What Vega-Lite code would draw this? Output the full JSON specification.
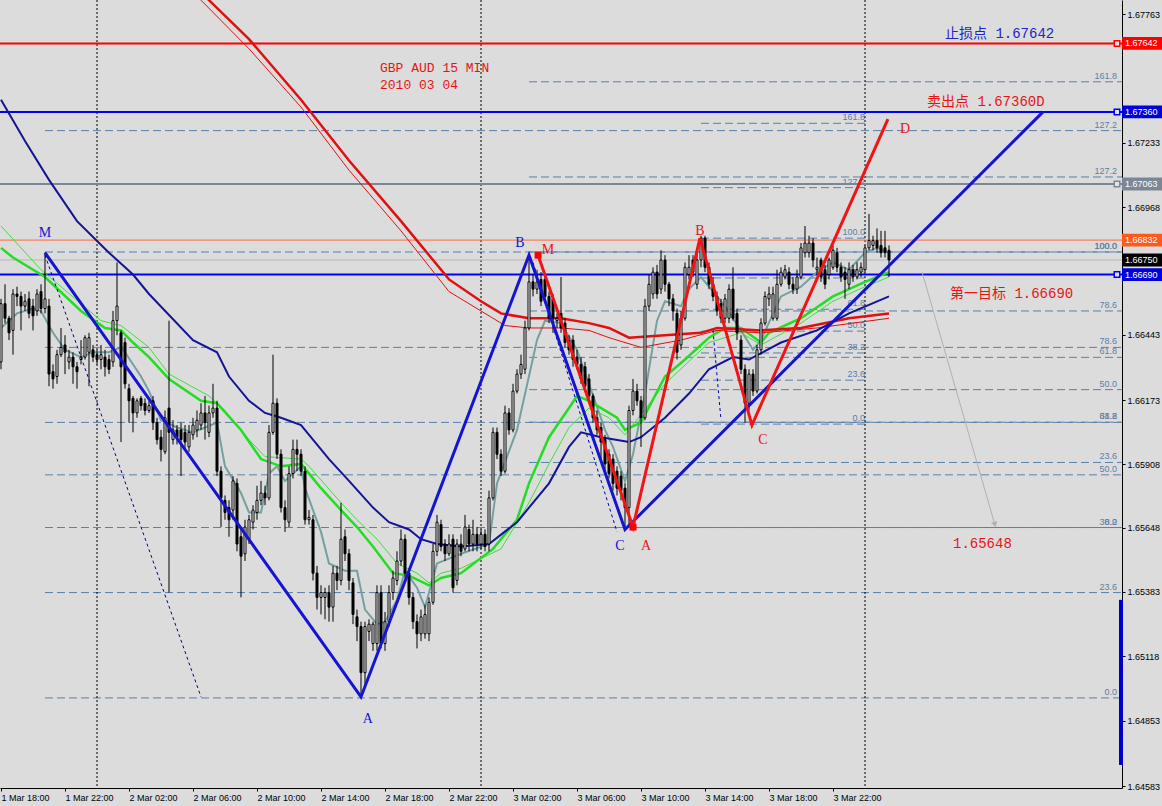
{
"$schema":"https://vega.github.io/schema/vega-lite/v6.json",
"width":1122,"height":788,
"autosize":{"type":"none"},
"padding":{"left":0,"top":0,"right":40,"bottom":18},
"background":"#dcdcdc",
"config":{"view":{"stroke":null},"axis":{"grid":false},"scale":{"continuousPadding":0}},
"datasets":{
"fib":[
{"lv":"0.0","p":1.64946,"t1":"2010-03-01T20:45","t2":"2010-03-04T16:03:45","tl":"2010-03-04T15:45"},
{"lv":"23.6","p":1.65380,"t1":"2010-03-01T20:45","t2":"2010-03-04T16:03:45","tl":"2010-03-04T15:45"},
{"lv":"38.2","p":1.65648,"t1":"2010-03-01T20:45","t2":"2010-03-04T16:03:45","tl":"2010-03-04T15:45"},
{"lv":"50.0","p":1.65865,"t1":"2010-03-01T20:45","t2":"2010-03-04T16:03:45","tl":"2010-03-04T15:45"},
{"lv":"61.8","p":1.66081,"t1":"2010-03-01T20:45","t2":"2010-03-04T16:03:45","tl":"2010-03-04T15:45"},
{"lv":"78.6","p":1.66390,"t1":"2010-03-01T20:45","t2":"2010-03-04T16:03:45","tl":"2010-03-04T15:45"},
{"lv":"100.0","p":1.66783,"t1":"2010-03-01T20:45","t2":"2010-03-04T16:03:45","tl":"2010-03-04T15:45"},
{"lv":"127.2","p":1.67283,"t1":"2010-03-01T20:45","t2":"2010-03-04T16:03:45","tl":"2010-03-04T15:45"},
{"lv":"0.0","p":1.65648,"t1":"2010-03-03T03:00","t2":"2010-03-04T16:03:45","tl":"2010-03-04T15:45"},
{"lv":"23.6","p":1.65916,"t1":"2010-03-03T03:00","t2":"2010-03-04T16:03:45","tl":"2010-03-04T15:45"},
{"lv":"38.2","p":1.66082,"t1":"2010-03-03T03:00","t2":"2010-03-04T16:03:45","tl":"2010-03-04T15:45"},
{"lv":"50.0","p":1.66216,"t1":"2010-03-03T03:00","t2":"2010-03-04T16:03:45","tl":"2010-03-04T15:45"},
{"lv":"61.8","p":1.66349,"t1":"2010-03-03T03:00","t2":"2010-03-04T16:03:45","tl":"2010-03-04T15:45"},
{"lv":"78.6","p":1.66540,"t1":"2010-03-03T03:00","t2":"2010-03-04T16:03:45","tl":"2010-03-04T15:45"},
{"lv":"100.0","p":1.66783,"t1":"2010-03-03T03:00","t2":"2010-03-04T16:03:45","tl":"2010-03-04T15:45"},
{"lv":"127.2","p":1.67092,"t1":"2010-03-03T03:00","t2":"2010-03-04T16:03:45","tl":"2010-03-04T15:45"},
{"lv":"161.8","p":1.67484,"t1":"2010-03-03T03:00","t2":"2010-03-04T16:03:45","tl":"2010-03-04T15:45"},
{"lv":"0.0","p":1.66074,"t1":"2010-03-03T13:45","t2":"2010-03-04T00:00","tl":"2010-03-04T00:00"},
{"lv":"23.6","p":1.66255,"t1":"2010-03-03T13:45","t2":"2010-03-04T00:00","tl":"2010-03-04T00:00"},
{"lv":"38.2","p":1.66367,"t1":"2010-03-03T13:45","t2":"2010-03-04T00:00","tl":"2010-03-04T00:00"},
{"lv":"50.0","p":1.66457,"t1":"2010-03-03T13:45","t2":"2010-03-04T00:00","tl":"2010-03-04T00:00"},
{"lv":"61.8","p":1.66547,"t1":"2010-03-03T13:45","t2":"2010-03-04T00:00","tl":"2010-03-04T00:00"},
{"lv":"78.6","p":1.66676,"t1":"2010-03-03T13:45","t2":"2010-03-04T00:00","tl":"2010-03-04T00:00"},
{"lv":"100.0","p":1.66840,"t1":"2010-03-03T13:45","t2":"2010-03-04T00:00","tl":"2010-03-04T00:00"},
{"lv":"127.2","p":1.67048,"t1":"2010-03-03T13:45","t2":"2010-03-04T00:00","tl":"2010-03-04T00:00"},
{"lv":"161.8","p":1.67313,"t1":"2010-03-03T13:45","t2":"2010-03-04T00:00","tl":"2010-03-04T00:00"}
],
"days":[{"t":"2010-03-02T00:00"},{"t":"2010-03-03T00:00"},{"t":"2010-03-04T00:00"}],
"hl":[{"n":"stop","p":1.67642},{"n":"sell","p":1.67360},{"n":"gray","p":1.67063},{"n":"or","p":1.66832},{"n":"bid","p":1.66750},{"n":"t1","p":1.66690}],
"ma":[
{"s":"nv","t":"2010-03-01T18:00","p":1.6741},{"s":"nv","t":"2010-03-01T19:30","p":1.6724},{"s":"nv","t":"2010-03-01T21:00","p":1.6708},{"s":"nv","t":"2010-03-01T22:45","p":1.6691},{"s":"nv","t":"2010-03-02T00:45","p":1.6678},{"s":"nv","t":"2010-03-02T02:15","p":1.6669},{"s":"nv","t":"2010-03-02T03:15","p":1.6661},{"s":"nv","t":"2010-03-02T06:00","p":1.6642},{"s":"nv","t":"2010-03-02T07:30","p":1.6637},{"s":"nv","t":"2010-03-02T08:15","p":1.6627},{"s":"nv","t":"2010-03-02T09:30","p":1.6617},{"s":"nv","t":"2010-03-02T10:30","p":1.6612},{"s":"nv","t":"2010-03-02T11:30","p":1.6610},{"s":"nv","t":"2010-03-02T12:45","p":1.6607},{"s":"nv","t":"2010-03-02T14:30","p":1.6593},{"s":"nv","t":"2010-03-02T15:45","p":1.6584},{"s":"nv","t":"2010-03-02T17:15","p":1.6573},{"s":"nv","t":"2010-03-02T18:15","p":1.6567},{"s":"nv","t":"2010-03-02T19:30","p":1.6564},{"s":"nv","t":"2010-03-02T20:15","p":1.6560},{"s":"nv","t":"2010-03-02T21:15","p":1.6558},{"s":"nv","t":"2010-03-02T22:45","p":1.6557},{"s":"nv","t":"2010-03-03T00:30","p":1.6558},{"s":"nv","t":"2010-03-03T02:15","p":1.6567},{"s":"nv","t":"2010-03-03T04:15","p":1.6583},{"s":"nv","t":"2010-03-03T05:30","p":1.6598},{"s":"nv","t":"2010-03-03T06:15","p":1.6604},{"s":"nv","t":"2010-03-03T07:30","p":1.6602},{"s":"nv","t":"2010-03-03T09:15","p":1.6600},{"s":"nv","t":"2010-03-03T10:00","p":1.6602},{"s":"nv","t":"2010-03-03T11:30","p":1.6610},{"s":"nv","t":"2010-03-03T13:00","p":1.6620},{"s":"nv","t":"2010-03-03T14:15","p":1.6630},{"s":"nv","t":"2010-03-03T15:45","p":1.6635},{"s":"nv","t":"2010-03-03T16:45","p":1.6634},{"s":"nv","t":"2010-03-03T18:45","p":1.6641},{"s":"nv","t":"2010-03-03T21:00","p":1.6646},{"s":"nv","t":"2010-03-03T23:00","p":1.6653},{"s":"nv","t":"2010-03-04T01:30","p":1.6660},
{"s":"r1","t":"2010-03-02T05:15","p":1.6795},{"s":"r1","t":"2010-03-02T07:00","p":1.6782},{"s":"r1","t":"2010-03-02T09:30","p":1.6766},{"s":"r1","t":"2010-03-02T12:45","p":1.6741},{"s":"r1","t":"2010-03-02T15:45","p":1.6716},{"s":"r1","t":"2010-03-02T19:00","p":1.6691},{"s":"r1","t":"2010-03-02T22:00","p":1.6667},{"s":"r1","t":"2010-03-03T00:00","p":1.6658},{"s":"r1","t":"2010-03-03T01:15","p":1.6653},{"s":"r1","t":"2010-03-03T03:00","p":1.6651},{"s":"r1","t":"2010-03-03T05:00","p":1.6651},{"s":"r1","t":"2010-03-03T06:45","p":1.6649},{"s":"r1","t":"2010-03-03T08:00","p":1.6647},{"s":"r1","t":"2010-03-03T09:15","p":1.6643},{"s":"r1","t":"2010-03-03T11:30","p":1.6644},{"s":"r1","t":"2010-03-03T13:45","p":1.6645},{"s":"r1","t":"2010-03-03T14:45","p":1.6647},{"s":"r1","t":"2010-03-03T17:30","p":1.6646},{"s":"r1","t":"2010-03-03T20:00","p":1.6647},{"s":"r1","t":"2010-03-03T23:00","p":1.6651},{"s":"r1","t":"2010-03-04T01:30","p":1.6653},
{"s":"r2","t":"2010-03-02T05:00","p":1.6793},{"s":"r2","t":"2010-03-02T06:30","p":1.6782},{"s":"r2","t":"2010-03-02T09:30","p":1.6762},{"s":"r2","t":"2010-03-02T12:45","p":1.6738},{"s":"r2","t":"2010-03-02T15:45","p":1.6712},{"s":"r2","t":"2010-03-02T19:00","p":1.6687},{"s":"r2","t":"2010-03-02T22:00","p":1.6662},{"s":"r2","t":"2010-03-03T00:00","p":1.6654},{"s":"r2","t":"2010-03-03T01:30","p":1.6648},{"s":"r2","t":"2010-03-03T03:00","p":1.6647},{"s":"r2","t":"2010-03-03T05:00","p":1.6647},{"s":"r2","t":"2010-03-03T06:45","p":1.6646},{"s":"r2","t":"2010-03-03T08:00","p":1.6643},{"s":"r2","t":"2010-03-03T10:00","p":1.6639},{"s":"r2","t":"2010-03-03T12:30","p":1.6642},{"s":"r2","t":"2010-03-03T14:45","p":1.6646},{"s":"r2","t":"2010-03-03T17:30","p":1.6645},{"s":"r2","t":"2010-03-03T21:00","p":1.6647},{"s":"r2","t":"2010-03-04T01:30","p":1.6651},
{"s":"g1","t":"2010-03-01T18:00","p":1.6680},{"s":"g1","t":"2010-03-01T18:45","p":1.6676},{"s":"g1","t":"2010-03-01T20:45","p":1.6668},{"s":"g1","t":"2010-03-01T23:00","p":1.6654},{"s":"g1","t":"2010-03-02T00:30","p":1.6647},{"s":"g1","t":"2010-03-02T01:30","p":1.6646},{"s":"g1","t":"2010-03-02T02:15","p":1.6641},{"s":"g1","t":"2010-03-02T03:15","p":1.6635},{"s":"g1","t":"2010-03-02T04:30","p":1.6626},{"s":"g1","t":"2010-03-02T06:30","p":1.6617},{"s":"g1","t":"2010-03-02T07:30","p":1.6616},{"s":"g1","t":"2010-03-02T09:00","p":1.6605},{"s":"g1","t":"2010-03-02T10:15","p":1.6593},{"s":"g1","t":"2010-03-02T11:30","p":1.6590},{"s":"g1","t":"2010-03-02T12:45","p":1.6591},{"s":"g1","t":"2010-03-02T13:15","p":1.6587},{"s":"g1","t":"2010-03-02T14:00","p":1.6581},{"s":"g1","t":"2010-03-02T15:15","p":1.6572},{"s":"g1","t":"2010-03-02T16:15","p":1.6565},{"s":"g1","t":"2010-03-02T17:15","p":1.6557},{"s":"g1","t":"2010-03-02T18:30","p":1.6546},{"s":"g1","t":"2010-03-02T19:30","p":1.6545},{"s":"g1","t":"2010-03-02T20:45","p":1.6541},{"s":"g1","t":"2010-03-02T21:30","p":1.6544},{"s":"g1","t":"2010-03-02T22:45","p":1.6546},{"s":"g1","t":"2010-03-03T00:45","p":1.6556},{"s":"g1","t":"2010-03-03T02:15","p":1.6568},{"s":"g1","t":"2010-03-03T03:00","p":1.6583},{"s":"g1","t":"2010-03-03T04:15","p":1.6602},{"s":"g1","t":"2010-03-03T05:30","p":1.6614},{"s":"g1","t":"2010-03-03T06:00","p":1.6619},{"s":"g1","t":"2010-03-03T06:45","p":1.6617},{"s":"g1","t":"2010-03-03T08:00","p":1.6612},{"s":"g1","t":"2010-03-03T08:30","p":1.6610},{"s":"g1","t":"2010-03-03T09:00","p":1.6605},{"s":"g1","t":"2010-03-03T10:00","p":1.6608},{"s":"g1","t":"2010-03-03T11:30","p":1.6627},{"s":"g1","t":"2010-03-03T12:45","p":1.6634},{"s":"g1","t":"2010-03-03T14:15","p":1.6643},{"s":"g1","t":"2010-03-03T15:15","p":1.6647},{"s":"g1","t":"2010-03-03T16:15","p":1.6647},{"s":"g1","t":"2010-03-03T17:30","p":1.6641},{"s":"g1","t":"2010-03-03T18:00","p":1.6645},{"s":"g1","t":"2010-03-03T20:00","p":1.6651},{"s":"g1","t":"2010-03-03T22:00","p":1.6660},{"s":"g1","t":"2010-03-04T00:00","p":1.6666},{"s":"g1","t":"2010-03-04T01:30","p":1.6670},
{"s":"g2","t":"2010-03-01T18:00","p":1.6689},{"s":"g2","t":"2010-03-01T20:30","p":1.6671},{"s":"g2","t":"2010-03-02T00:15","p":1.6650},{"s":"g2","t":"2010-03-02T01:30","p":1.6648},{"s":"g2","t":"2010-03-02T03:15","p":1.6639},{"s":"g2","t":"2010-03-02T04:30","p":1.6628},{"s":"g2","t":"2010-03-02T07:00","p":1.6619},{"s":"g2","t":"2010-03-02T08:00","p":1.6613},{"s":"g2","t":"2010-03-02T09:30","p":1.6601},{"s":"g2","t":"2010-03-02T10:30","p":1.6594},{"s":"g2","t":"2010-03-02T12:45","p":1.6593},{"s":"g2","t":"2010-03-02T13:15","p":1.6590},{"s":"g2","t":"2010-03-02T15:15","p":1.6575},{"s":"g2","t":"2010-03-02T16:15","p":1.6568},{"s":"g2","t":"2010-03-02T17:30","p":1.6560},{"s":"g2","t":"2010-03-02T18:45","p":1.6550},{"s":"g2","t":"2010-03-02T20:00","p":1.6546},{"s":"g2","t":"2010-03-02T20:45","p":1.6542},{"s":"g2","t":"2010-03-02T21:30","p":1.6546},{"s":"g2","t":"2010-03-02T22:45","p":1.6548},{"s":"g2","t":"2010-03-03T01:15","p":1.6556},{"s":"g2","t":"2010-03-03T03:00","p":1.6575},{"s":"g2","t":"2010-03-03T04:15","p":1.6591},{"s":"g2","t":"2010-03-03T05:30","p":1.6606},{"s":"g2","t":"2010-03-03T06:45","p":1.6614},{"s":"g2","t":"2010-03-03T08:00","p":1.6610},{"s":"g2","t":"2010-03-03T09:00","p":1.6603},{"s":"g2","t":"2010-03-03T11:30","p":1.6624},{"s":"g2","t":"2010-03-03T14:15","p":1.6641},{"s":"g2","t":"2010-03-03T16:15","p":1.6645},{"s":"g2","t":"2010-03-03T17:30","p":1.6640},{"s":"g2","t":"2010-03-03T20:00","p":1.6649},{"s":"g2","t":"2010-03-03T22:00","p":1.6658},{"s":"g2","t":"2010-03-04T00:00","p":1.6664},{"s":"g2","t":"2010-03-04T01:30","p":1.6668},
{"s":"tl","t":"2010-03-01T18:00","p":1.6647},{"s":"tl","t":"2010-03-01T19:00","p":1.6653},{"s":"tl","t":"2010-03-01T20:00","p":1.6655},{"s":"tl","t":"2010-03-01T20:30","p":1.6654},{"s":"tl","t":"2010-03-01T21:15","p":1.6645},{"s":"tl","t":"2010-03-01T22:00","p":1.6638},{"s":"tl","t":"2010-03-01T23:00","p":1.6635},{"s":"tl","t":"2010-03-01T23:45","p":1.6637},{"s":"tl","t":"2010-03-02T00:45","p":1.6637},{"s":"tl","t":"2010-03-02T01:30","p":1.6639},{"s":"tl","t":"2010-03-02T01:45","p":1.6637},{"s":"tl","t":"2010-03-02T02:45","p":1.6627},{"s":"tl","t":"2010-03-02T03:15","p":1.6621},{"s":"tl","t":"2010-03-02T04:00","p":1.6609},{"s":"tl","t":"2010-03-02T05:00","p":1.6606},{"s":"tl","t":"2010-03-02T06:00","p":1.6604},{"s":"tl","t":"2010-03-02T06:45","p":1.6606},{"s":"tl","t":"2010-03-02T07:30","p":1.6608},{"s":"tl","t":"2010-03-02T08:00","p":1.6590},{"s":"tl","t":"2010-03-02T09:00","p":1.6579},{"s":"tl","t":"2010-03-02T09:30","p":1.6571},{"s":"tl","t":"2010-03-02T10:15","p":1.6571},{"s":"tl","t":"2010-03-02T10:45","p":1.6587},{"s":"tl","t":"2010-03-02T11:15","p":1.6590},{"s":"tl","t":"2010-03-02T11:45","p":1.6584},{"s":"tl","t":"2010-03-02T12:45","p":1.6590},{"s":"tl","t":"2010-03-02T13:00","p":1.6581},{"s":"tl","t":"2010-03-02T14:00","p":1.6563},{"s":"tl","t":"2010-03-02T14:30","p":1.6550},{"s":"tl","t":"2010-03-02T15:30","p":1.6547},{"s":"tl","t":"2010-03-02T16:15","p":1.6547},{"s":"tl","t":"2010-03-02T16:45","p":1.6531},{"s":"tl","t":"2010-03-02T17:30","p":1.6525},{"s":"tl","t":"2010-03-02T18:00","p":1.6526},{"s":"tl","t":"2010-03-02T18:45","p":1.6535},{"s":"tl","t":"2010-03-02T19:15","p":1.6547},{"s":"tl","t":"2010-03-02T20:00","p":1.6540},{"s":"tl","t":"2010-03-02T20:30","p":1.6532},{"s":"tl","t":"2010-03-02T21:15","p":1.6550},{"s":"tl","t":"2010-03-02T22:45","p":1.6554},{"s":"tl","t":"2010-03-03T00:30","p":1.6558},{"s":"tl","t":"2010-03-03T01:00","p":1.6583},{"s":"tl","t":"2010-03-03T02:15","p":1.6605},{"s":"tl","t":"2010-03-03T03:30","p":1.6642},{"s":"tl","t":"2010-03-03T04:00","p":1.6650},{"s":"tl","t":"2010-03-03T05:00","p":1.6649},{"s":"tl","t":"2010-03-03T06:00","p":1.6638},{"s":"tl","t":"2010-03-03T06:45","p":1.6624},{"s":"tl","t":"2010-03-03T07:45","p":1.6605},{"s":"tl","t":"2010-03-03T08:15","p":1.6598},{"s":"tl","t":"2010-03-03T09:00","p":1.6584},{"s":"tl","t":"2010-03-03T09:30","p":1.6595},{"s":"tl","t":"2010-03-03T10:15","p":1.6620},{"s":"tl","t":"2010-03-03T11:00","p":1.6650},{"s":"tl","t":"2010-03-03T11:30","p":1.6658},{"s":"tl","t":"2010-03-03T12:30","p":1.6656},{"s":"tl","t":"2010-03-03T13:00","p":1.6663},{"s":"tl","t":"2010-03-03T13:45","p":1.6668},{"s":"tl","t":"2010-03-03T14:45","p":1.6660},{"s":"tl","t":"2010-03-03T15:15","p":1.6656},{"s":"tl","t":"2010-03-03T16:15","p":1.6646},{"s":"tl","t":"2010-03-03T17:00","p":1.6638},{"s":"tl","t":"2010-03-03T17:30","p":1.6642},{"s":"tl","t":"2010-03-03T18:45","p":1.6660},{"s":"tl","t":"2010-03-03T20:00","p":1.6664},{"s":"tl","t":"2010-03-03T21:00","p":1.6670},{"s":"tl","t":"2010-03-03T22:00","p":1.6674},{"s":"tl","t":"2010-03-03T23:00","p":1.6671},{"s":"tl","t":"2010-03-04T00:00","p":1.6678},{"s":"tl","t":"2010-03-04T00:45","p":1.6680},{"s":"tl","t":"2010-03-04T01:30","p":1.6678}
],
"c":[
{"t":"2010-03-01T18:00","o":1.6633,"h":1.6659,"l":1.6630,"c":1.6657},
{"t":"2010-03-01T18:15","o":1.6657,"h":1.6665,"l":1.6649,"c":1.6651},
{"t":"2010-03-01T18:30","o":1.6651,"h":1.6652,"l":1.6642,"c":1.6645},
{"t":"2010-03-01T18:45","o":1.6646,"h":1.6663,"l":1.6636,"c":1.6661},
{"t":"2010-03-01T19:00","o":1.6661,"h":1.6664,"l":1.6656,"c":1.6660},
{"t":"2010-03-01T19:15","o":1.6660,"h":1.6662,"l":1.6646,"c":1.6656},
{"t":"2010-03-01T19:30","o":1.6656,"h":1.6661,"l":1.6654,"c":1.6658},
{"t":"2010-03-01T19:45","o":1.6659,"h":1.6662,"l":1.6651,"c":1.6653},
{"t":"2010-03-01T20:00","o":1.6656,"h":1.6659,"l":1.6646,"c":1.6652},
{"t":"2010-03-01T20:15","o":1.6654,"h":1.6663,"l":1.6652,"c":1.6661},
{"t":"2010-03-01T20:30","o":1.6662,"h":1.6665,"l":1.6653,"c":1.6655},
{"t":"2010-03-01T20:45","o":1.6655,"h":1.6678,"l":1.6653,"c":1.6659},
{"t":"2010-03-01T21:00","o":1.6656,"h":1.6659,"l":1.6623,"c":1.6628},
{"t":"2010-03-01T21:15","o":1.6629,"h":1.6632,"l":1.6622,"c":1.6626},
{"t":"2010-03-01T21:30","o":1.6627,"h":1.6638,"l":1.6624,"c":1.6636},
{"t":"2010-03-01T21:45","o":1.6636,"h":1.6647,"l":1.6635,"c":1.6639},
{"t":"2010-03-01T22:00","o":1.6640,"h":1.6644,"l":1.6628,"c":1.6637},
{"t":"2010-03-01T22:15","o":1.6633,"h":1.6638,"l":1.6630,"c":1.6635},
{"t":"2010-03-01T22:30","o":1.6635,"h":1.6637,"l":1.6624,"c":1.6631},
{"t":"2010-03-01T22:45","o":1.6631,"h":1.6633,"l":1.6622,"c":1.6629},
{"t":"2010-03-01T23:00","o":1.6634,"h":1.6642,"l":1.6632,"c":1.6635},
{"t":"2010-03-01T23:15","o":1.6635,"h":1.6644,"l":1.6634,"c":1.6643},
{"t":"2010-03-01T23:30","o":1.6637,"h":1.6645,"l":1.6623,"c":1.6643},
{"t":"2010-03-01T23:45","o":1.6638,"h":1.6640,"l":1.6633,"c":1.6635},
{"t":"2010-03-02T00:00","o":1.6636,"h":1.6638,"l":1.6632,"c":1.6634},
{"t":"2010-03-02T00:15","o":1.6634,"h":1.6640,"l":1.6630,"c":1.6636},
{"t":"2010-03-02T00:30","o":1.6635,"h":1.6638,"l":1.6627,"c":1.6631},
{"t":"2010-03-02T00:45","o":1.6634,"h":1.6636,"l":1.6628,"c":1.6630},
{"t":"2010-03-02T01:00","o":1.6633,"h":1.6654,"l":1.6631,"c":1.6650},
{"t":"2010-03-02T01:15","o":1.6650,"h":1.6674,"l":1.6644,"c":1.6656},
{"t":"2010-03-02T01:30","o":1.6645,"h":1.6646,"l":1.6600,"c":1.6631},
{"t":"2010-03-02T01:45","o":1.6641,"h":1.6643,"l":1.6622,"c":1.6624},
{"t":"2010-03-02T02:00","o":1.6622,"h":1.6624,"l":1.6608,"c":1.6617},
{"t":"2010-03-02T02:15","o":1.6618,"h":1.6619,"l":1.6604,"c":1.6612},
{"t":"2010-03-02T02:30","o":1.6612,"h":1.6618,"l":1.6610,"c":1.6617},
{"t":"2010-03-02T02:45","o":1.6618,"h":1.6619,"l":1.6613,"c":1.6615},
{"t":"2010-03-02T03:00","o":1.6616,"h":1.6618,"l":1.6611,"c":1.6613},
{"t":"2010-03-02T03:15","o":1.6613,"h":1.6617,"l":1.6612,"c":1.6615},
{"t":"2010-03-02T03:30","o":1.6617,"h":1.6619,"l":1.6605,"c":1.6608},
{"t":"2010-03-02T03:45","o":1.6608,"h":1.6610,"l":1.6599,"c":1.6601},
{"t":"2010-03-02T04:00","o":1.6602,"h":1.6605,"l":1.6592,"c":1.6597},
{"t":"2010-03-02T04:15","o":1.6596,"h":1.6613,"l":1.6595,"c":1.6610},
{"t":"2010-03-02T04:30","o":1.6614,"h":1.6650,"l":1.6538,"c":1.6604},
{"t":"2010-03-02T04:45","o":1.6601,"h":1.6609,"l":1.6599,"c":1.6605},
{"t":"2010-03-02T05:00","o":1.6605,"h":1.6607,"l":1.6599,"c":1.6602},
{"t":"2010-03-02T05:15","o":1.6605,"h":1.6608,"l":1.6586,"c":1.6601},
{"t":"2010-03-02T05:30","o":1.6604,"h":1.6607,"l":1.6597,"c":1.6600},
{"t":"2010-03-02T05:45","o":1.6598,"h":1.6607,"l":1.6596,"c":1.6604},
{"t":"2010-03-02T06:00","o":1.6603,"h":1.6610,"l":1.6601,"c":1.6607},
{"t":"2010-03-02T06:15","o":1.6605,"h":1.6613,"l":1.6602,"c":1.6609},
{"t":"2010-03-02T06:30","o":1.6607,"h":1.6616,"l":1.6605,"c":1.6612},
{"t":"2010-03-02T06:45","o":1.6612,"h":1.6619,"l":1.6601,"c":1.6608},
{"t":"2010-03-02T07:00","o":1.6604,"h":1.6615,"l":1.6602,"c":1.6612},
{"t":"2010-03-02T07:15","o":1.6612,"h":1.6624,"l":1.6610,"c":1.6614},
{"t":"2010-03-02T07:30","o":1.6614,"h":1.6617,"l":1.6586,"c":1.6588},
{"t":"2010-03-02T07:45","o":1.6588,"h":1.6590,"l":1.6565,"c":1.6577},
{"t":"2010-03-02T08:00","o":1.6576,"h":1.6578,"l":1.6568,"c":1.6571},
{"t":"2010-03-02T08:15","o":1.6573,"h":1.6576,"l":1.6561,"c":1.6568},
{"t":"2010-03-02T08:30","o":1.6572,"h":1.6586,"l":1.6568,"c":1.6584},
{"t":"2010-03-02T08:45","o":1.6583,"h":1.6585,"l":1.6555,"c":1.6558},
{"t":"2010-03-02T09:00","o":1.6561,"h":1.6564,"l":1.6536,"c":1.6553},
{"t":"2010-03-02T09:15","o":1.6554,"h":1.6568,"l":1.6551,"c":1.6565},
{"t":"2010-03-02T09:30","o":1.6560,"h":1.6570,"l":1.6558,"c":1.6568},
{"t":"2010-03-02T09:45","o":1.6567,"h":1.6574,"l":1.6564,"c":1.6572},
{"t":"2010-03-02T10:00","o":1.6571,"h":1.6582,"l":1.6568,"c":1.6576},
{"t":"2010-03-02T10:15","o":1.6576,"h":1.6584,"l":1.6574,"c":1.6579},
{"t":"2010-03-02T10:30","o":1.6579,"h":1.6582,"l":1.6574,"c":1.6577},
{"t":"2010-03-02T10:45","o":1.6577,"h":1.6607,"l":1.6576,"c":1.6604},
{"t":"2010-03-02T11:00","o":1.6604,"h":1.6636,"l":1.6603,"c":1.6616},
{"t":"2010-03-02T11:15","o":1.6616,"h":1.6618,"l":1.6593,"c":1.6595},
{"t":"2010-03-02T11:30","o":1.6595,"h":1.6597,"l":1.6571,"c":1.6573},
{"t":"2010-03-02T11:45","o":1.6573,"h":1.6576,"l":1.6563,"c":1.6568},
{"t":"2010-03-02T12:00","o":1.6567,"h":1.6590,"l":1.6565,"c":1.6587},
{"t":"2010-03-02T12:15","o":1.6587,"h":1.6601,"l":1.6585,"c":1.6597},
{"t":"2010-03-02T12:30","o":1.6597,"h":1.6601,"l":1.6588,"c":1.6595},
{"t":"2010-03-02T12:45","o":1.6595,"h":1.6597,"l":1.6586,"c":1.6588},
{"t":"2010-03-02T13:00","o":1.6588,"h":1.6590,"l":1.6566,"c":1.6568},
{"t":"2010-03-02T13:15","o":1.6568,"h":1.6572,"l":1.6566,"c":1.6569},
{"t":"2010-03-02T13:30","o":1.6568,"h":1.6570,"l":1.6543,"c":1.6546},
{"t":"2010-03-02T13:45","o":1.6546,"h":1.6549,"l":1.6531,"c":1.6536},
{"t":"2010-03-02T14:00","o":1.6536,"h":1.6541,"l":1.6529,"c":1.6538},
{"t":"2010-03-02T14:15","o":1.6536,"h":1.6540,"l":1.6527,"c":1.6538},
{"t":"2010-03-02T14:30","o":1.6538,"h":1.6541,"l":1.6526,"c":1.6532},
{"t":"2010-03-02T14:45","o":1.6532,"h":1.6549,"l":1.6526,"c":1.6546},
{"t":"2010-03-02T15:00","o":1.6546,"h":1.6549,"l":1.6539,"c":1.6543},
{"t":"2010-03-02T15:15","o":1.6543,"h":1.6575,"l":1.6541,"c":1.6560},
{"t":"2010-03-02T15:30","o":1.6561,"h":1.6564,"l":1.6551,"c":1.6554},
{"t":"2010-03-02T15:45","o":1.6554,"h":1.6556,"l":1.6539,"c":1.6543},
{"t":"2010-03-02T16:00","o":1.6542,"h":1.6544,"l":1.6525,"c":1.6529},
{"t":"2010-03-02T16:15","o":1.6528,"h":1.6531,"l":1.6518,"c":1.6524},
{"t":"2010-03-02T16:30","o":1.6524,"h":1.6526,"l":1.6495,"c":1.6505},
{"t":"2010-03-02T16:45","o":1.6505,"h":1.6526,"l":1.6500,"c":1.6524},
{"t":"2010-03-02T17:00","o":1.6522,"h":1.6527,"l":1.6518,"c":1.6525},
{"t":"2010-03-02T17:15","o":1.6517,"h":1.6526,"l":1.6514,"c":1.6525},
{"t":"2010-03-02T17:30","o":1.6517,"h":1.6541,"l":1.6514,"c":1.6538},
{"t":"2010-03-02T17:45","o":1.6538,"h":1.6541,"l":1.6515,"c":1.6517},
{"t":"2010-03-02T18:00","o":1.6517,"h":1.6530,"l":1.6514,"c":1.6526},
{"t":"2010-03-02T18:15","o":1.6526,"h":1.6541,"l":1.6524,"c":1.6538},
{"t":"2010-03-02T18:30","o":1.6538,"h":1.6547,"l":1.6535,"c":1.6544},
{"t":"2010-03-02T18:45","o":1.6543,"h":1.6555,"l":1.6541,"c":1.6551},
{"t":"2010-03-02T19:00","o":1.6551,"h":1.6564,"l":1.6549,"c":1.6560},
{"t":"2010-03-02T19:15","o":1.6560,"h":1.6562,"l":1.6544,"c":1.6546},
{"t":"2010-03-02T19:30","o":1.6546,"h":1.6548,"l":1.6533,"c":1.6536},
{"t":"2010-03-02T19:45","o":1.6536,"h":1.6538,"l":1.6523,"c":1.6526},
{"t":"2010-03-02T20:00","o":1.6526,"h":1.6529,"l":1.6515,"c":1.6521},
{"t":"2010-03-02T20:15","o":1.6521,"h":1.6531,"l":1.6518,"c":1.6528},
{"t":"2010-03-02T20:30","o":1.6521,"h":1.6533,"l":1.6519,"c":1.6529},
{"t":"2010-03-02T20:45","o":1.6521,"h":1.6536,"l":1.6518,"c":1.6534},
{"t":"2010-03-02T21:00","o":1.6534,"h":1.6558,"l":1.6533,"c":1.6555},
{"t":"2010-03-02T21:15","o":1.6555,"h":1.6570,"l":1.6553,"c":1.6567},
{"t":"2010-03-02T21:30","o":1.6566,"h":1.6568,"l":1.6555,"c":1.6557},
{"t":"2010-03-02T21:45","o":1.6558,"h":1.6560,"l":1.6551,"c":1.6554},
{"t":"2010-03-02T22:00","o":1.6554,"h":1.6562,"l":1.6553,"c":1.6558},
{"t":"2010-03-02T22:15","o":1.6560,"h":1.6562,"l":1.6538,"c":1.6540},
{"t":"2010-03-02T22:30","o":1.6543,"h":1.6560,"l":1.6541,"c":1.6558},
{"t":"2010-03-02T22:45","o":1.6558,"h":1.6562,"l":1.6553,"c":1.6555},
{"t":"2010-03-02T23:00","o":1.6556,"h":1.6570,"l":1.6555,"c":1.6565},
{"t":"2010-03-02T23:15","o":1.6564,"h":1.6566,"l":1.6555,"c":1.6558},
{"t":"2010-03-02T23:30","o":1.6558,"h":1.6568,"l":1.6555,"c":1.6562},
{"t":"2010-03-02T23:45","o":1.6562,"h":1.6565,"l":1.6555,"c":1.6558},
{"t":"2010-03-03T00:00","o":1.6558,"h":1.6564,"l":1.6556,"c":1.6562},
{"t":"2010-03-03T00:15","o":1.6562,"h":1.6564,"l":1.6555,"c":1.6557},
{"t":"2010-03-03T00:30","o":1.6558,"h":1.6580,"l":1.6555,"c":1.6577},
{"t":"2010-03-03T00:45","o":1.6577,"h":1.6606,"l":1.6576,"c":1.6604},
{"t":"2010-03-03T01:00","o":1.6604,"h":1.6606,"l":1.6593,"c":1.6595},
{"t":"2010-03-03T01:15","o":1.6595,"h":1.6597,"l":1.6586,"c":1.6588},
{"t":"2010-03-03T01:30","o":1.6588,"h":1.6615,"l":1.6587,"c":1.6612},
{"t":"2010-03-03T01:45","o":1.6612,"h":1.6614,"l":1.6603,"c":1.6605},
{"t":"2010-03-03T02:00","o":1.6605,"h":1.6624,"l":1.6604,"c":1.6621},
{"t":"2010-03-03T02:15","o":1.6621,"h":1.6630,"l":1.6620,"c":1.6628},
{"t":"2010-03-03T02:30","o":1.6628,"h":1.6636,"l":1.6626,"c":1.6632},
{"t":"2010-03-03T02:45","o":1.6630,"h":1.6650,"l":1.6628,"c":1.6647},
{"t":"2010-03-03T03:00","o":1.6647,"h":1.6677,"l":1.6646,"c":1.6666},
{"t":"2010-03-03T03:15","o":1.6666,"h":1.6669,"l":1.6660,"c":1.6663},
{"t":"2010-03-03T03:30","o":1.6663,"h":1.6671,"l":1.6661,"c":1.6666},
{"t":"2010-03-03T03:45","o":1.6667,"h":1.6670,"l":1.6656,"c":1.6658},
{"t":"2010-03-03T04:00","o":1.6667,"h":1.6668,"l":1.6658,"c":1.6660},
{"t":"2010-03-03T04:15","o":1.6660,"h":1.6662,"l":1.6649,"c":1.6651},
{"t":"2010-03-03T04:30","o":1.6659,"h":1.6661,"l":1.6645,"c":1.6651},
{"t":"2010-03-03T04:45","o":1.6650,"h":1.6653,"l":1.6647,"c":1.6651},
{"t":"2010-03-03T05:00","o":1.6653,"h":1.6668,"l":1.6645,"c":1.6647},
{"t":"2010-03-03T05:15","o":1.6649,"h":1.6651,"l":1.6639,"c":1.6641},
{"t":"2010-03-03T05:30","o":1.6642,"h":1.6644,"l":1.6636,"c":1.6638},
{"t":"2010-03-03T05:45","o":1.6642,"h":1.6644,"l":1.6631,"c":1.6634},
{"t":"2010-03-03T06:00","o":1.6635,"h":1.6638,"l":1.6630,"c":1.6632},
{"t":"2010-03-03T06:15","o":1.6632,"h":1.6635,"l":1.6624,"c":1.6626},
{"t":"2010-03-03T06:30","o":1.6631,"h":1.6633,"l":1.6621,"c":1.6623},
{"t":"2010-03-03T06:45","o":1.6626,"h":1.6628,"l":1.6616,"c":1.6619},
{"t":"2010-03-03T07:00","o":1.6619,"h":1.6620,"l":1.6608,"c":1.6610},
{"t":"2010-03-03T07:15","o":1.6610,"h":1.6613,"l":1.6603,"c":1.6605},
{"t":"2010-03-03T07:30","o":1.6606,"h":1.6608,"l":1.6593,"c":1.6600},
{"t":"2010-03-03T07:45","o":1.6601,"h":1.6603,"l":1.6588,"c":1.6591},
{"t":"2010-03-03T08:00","o":1.6595,"h":1.6597,"l":1.6585,"c":1.6587},
{"t":"2010-03-03T08:15","o":1.6593,"h":1.6595,"l":1.6580,"c":1.6583},
{"t":"2010-03-03T08:30","o":1.6588,"h":1.6590,"l":1.6578,"c":1.6581},
{"t":"2010-03-03T08:45","o":1.6586,"h":1.6588,"l":1.6576,"c":1.6580},
{"t":"2010-03-03T09:00","o":1.6581,"h":1.6583,"l":1.6565,"c":1.6573},
{"t":"2010-03-03T09:15","o":1.6573,"h":1.6615,"l":1.6566,"c":1.6613},
{"t":"2010-03-03T09:30","o":1.6613,"h":1.6626,"l":1.6611,"c":1.6621},
{"t":"2010-03-03T09:45","o":1.6621,"h":1.6624,"l":1.6615,"c":1.6617},
{"t":"2010-03-03T10:00","o":1.6617,"h":1.6619,"l":1.6598,"c":1.6610},
{"t":"2010-03-03T10:15","o":1.6610,"h":1.6659,"l":1.6609,"c":1.6656},
{"t":"2010-03-03T10:30","o":1.6656,"h":1.6669,"l":1.6654,"c":1.6665},
{"t":"2010-03-03T10:45","o":1.6661,"h":1.6672,"l":1.6659,"c":1.6670},
{"t":"2010-03-03T11:00","o":1.6670,"h":1.6673,"l":1.6659,"c":1.6661},
{"t":"2010-03-03T11:15","o":1.6663,"h":1.6679,"l":1.6661,"c":1.6675},
{"t":"2010-03-03T11:30","o":1.6675,"h":1.6677,"l":1.6662,"c":1.6665},
{"t":"2010-03-03T11:45","o":1.6665,"h":1.6666,"l":1.6656,"c":1.6659},
{"t":"2010-03-03T12:00","o":1.6659,"h":1.6661,"l":1.6650,"c":1.6654},
{"t":"2010-03-03T12:15","o":1.6653,"h":1.6655,"l":1.6634,"c":1.6637},
{"t":"2010-03-03T12:30","o":1.6640,"h":1.6654,"l":1.6638,"c":1.6651},
{"t":"2010-03-03T12:45","o":1.6651,"h":1.6674,"l":1.6650,"c":1.6672},
{"t":"2010-03-03T13:00","o":1.6669,"h":1.6677,"l":1.6667,"c":1.6672},
{"t":"2010-03-03T13:15","o":1.6675,"h":1.6677,"l":1.6668,"c":1.6670},
{"t":"2010-03-03T13:30","o":1.6665,"h":1.6679,"l":1.6663,"c":1.6675},
{"t":"2010-03-03T13:45","o":1.6675,"h":1.6685,"l":1.6672,"c":1.6684},
{"t":"2010-03-03T14:00","o":1.6684,"h":1.6685,"l":1.6670,"c":1.6672},
{"t":"2010-03-03T14:15","o":1.6672,"h":1.6674,"l":1.6663,"c":1.6665},
{"t":"2010-03-03T14:30","o":1.6665,"h":1.6668,"l":1.6658,"c":1.6660},
{"t":"2010-03-03T14:45","o":1.6660,"h":1.6662,"l":1.6652,"c":1.6654},
{"t":"2010-03-03T15:00","o":1.6657,"h":1.6659,"l":1.6649,"c":1.6651},
{"t":"2010-03-03T15:15","o":1.6651,"h":1.6661,"l":1.6649,"c":1.6659},
{"t":"2010-03-03T15:30","o":1.6651,"h":1.6665,"l":1.6649,"c":1.6663},
{"t":"2010-03-03T15:45","o":1.6663,"h":1.6672,"l":1.6650,"c":1.6651},
{"t":"2010-03-03T16:00","o":1.6653,"h":1.6655,"l":1.6642,"c":1.6645},
{"t":"2010-03-03T16:15","o":1.6642,"h":1.6644,"l":1.6628,"c":1.6630},
{"t":"2010-03-03T16:30","o":1.6630,"h":1.6632,"l":1.6608,"c":1.6616},
{"t":"2010-03-03T16:45","o":1.6616,"h":1.6630,"l":1.6613,"c":1.6628},
{"t":"2010-03-03T17:00","o":1.6628,"h":1.6630,"l":1.6619,"c":1.6621},
{"t":"2010-03-03T17:15","o":1.6621,"h":1.6640,"l":1.6620,"c":1.6638},
{"t":"2010-03-03T17:30","o":1.6638,"h":1.6651,"l":1.6636,"c":1.6649},
{"t":"2010-03-03T17:45","o":1.6649,"h":1.6662,"l":1.6648,"c":1.6660},
{"t":"2010-03-03T18:00","o":1.6659,"h":1.6664,"l":1.6656,"c":1.6661},
{"t":"2010-03-03T18:15","o":1.6651,"h":1.6664,"l":1.6650,"c":1.6661},
{"t":"2010-03-03T18:30","o":1.6651,"h":1.6671,"l":1.6650,"c":1.6665},
{"t":"2010-03-03T18:45","o":1.6665,"h":1.6672,"l":1.6664,"c":1.6670},
{"t":"2010-03-03T19:00","o":1.6668,"h":1.6673,"l":1.6667,"c":1.6671},
{"t":"2010-03-03T19:15","o":1.6670,"h":1.6672,"l":1.6663,"c":1.6665},
{"t":"2010-03-03T19:30","o":1.6665,"h":1.6668,"l":1.6661,"c":1.6663},
{"t":"2010-03-03T19:45","o":1.6663,"h":1.6671,"l":1.6661,"c":1.6668},
{"t":"2010-03-03T20:00","o":1.6668,"h":1.6682,"l":1.6667,"c":1.6680},
{"t":"2010-03-03T20:15","o":1.6678,"h":1.6689,"l":1.6676,"c":1.6682},
{"t":"2010-03-03T20:30","o":1.6678,"h":1.6685,"l":1.6676,"c":1.6682},
{"t":"2010-03-03T20:45","o":1.6682,"h":1.6684,"l":1.6672,"c":1.6675},
{"t":"2010-03-03T21:00","o":1.6671,"h":1.6676,"l":1.6669,"c":1.6672},
{"t":"2010-03-03T21:15","o":1.6675,"h":1.6676,"l":1.6666,"c":1.6668},
{"t":"2010-03-03T21:30","o":1.6671,"h":1.6673,"l":1.6663,"c":1.6665},
{"t":"2010-03-03T21:45","o":1.6669,"h":1.6676,"l":1.6667,"c":1.6675},
{"t":"2010-03-03T22:00","o":1.6672,"h":1.6681,"l":1.6671,"c":1.6679},
{"t":"2010-03-03T22:15","o":1.6678,"h":1.6680,"l":1.6670,"c":1.6672},
{"t":"2010-03-03T22:30","o":1.6672,"h":1.6674,"l":1.6666,"c":1.6668},
{"t":"2010-03-03T22:45","o":1.6670,"h":1.6672,"l":1.6659,"c":1.6667},
{"t":"2010-03-03T23:00","o":1.6665,"h":1.6674,"l":1.6663,"c":1.6671},
{"t":"2010-03-03T23:15","o":1.6671,"h":1.6673,"l":1.6666,"c":1.6668},
{"t":"2010-03-03T23:30","o":1.6668,"h":1.6674,"l":1.6667,"c":1.6671},
{"t":"2010-03-03T23:45","o":1.6670,"h":1.6674,"l":1.6668,"c":1.6672},
{"t":"2010-03-04T00:00","o":1.6671,"h":1.6681,"l":1.6670,"c":1.6680},
{"t":"2010-03-04T00:15","o":1.6680,"h":1.6694,"l":1.6679,"c":1.6683},
{"t":"2010-03-04T00:30","o":1.6681,"h":1.6685,"l":1.6679,"c":1.6683},
{"t":"2010-03-04T00:45","o":1.6683,"h":1.6688,"l":1.6678,"c":1.6680},
{"t":"2010-03-04T01:00","o":1.6681,"h":1.6687,"l":1.6676,"c":1.6678},
{"t":"2010-03-04T01:15","o":1.6680,"h":1.6687,"l":1.6676,"c":1.6678},
{"t":"2010-03-04T01:30","o":1.6679,"h":1.6681,"l":1.6668,"c":1.6675}
],
"dl":[{"g":1,"t":"2010-03-01T20:45","p":1.6677},{"g":1,"t":"2010-03-02T06:30","p":1.6495},{"g":2,"t":"2010-03-03T03:15","p":1.6674},{"g":2,"t":"2010-03-03T08:30","p":1.6563},{"g":3,"t":"2010-03-03T14:30","p":1.6646},{"g":3,"t":"2010-03-03T15:00","p":1.6609}],
"ar":[{"k":1,"t":"2010-03-04T03:34","p":1.6670},{"k":2,"t":"2010-03-04T08:07","p":1.6566}],
"zz":[{"s":"b","k":1,"t":"2010-03-01T20:45","p":1.6678},{"s":"b","k":2,"t":"2010-03-02T16:30","p":1.6495},{"s":"b","k":3,"t":"2010-03-03T03:00","p":1.6677},{"s":"b","k":4,"t":"2010-03-03T09:00","p":1.6564},{"s":"b","k":5,"t":"2010-03-04T11:07:30","p":1.6736},{"s":"r","k":1,"t":"2010-03-03T03:34","p":1.6677},{"s":"r","k":2,"t":"2010-03-03T09:30","p":1.6565},{"s":"r","k":3,"t":"2010-03-03T13:41","p":1.6684},{"s":"r","k":4,"t":"2010-03-03T16:56","p":1.6607},{"s":"r","k":5,"t":"2010-03-04T01:26","p":1.6733}],
"lbl":[{"s":"b","t":"2010-03-01T20:45","p":1.6686,"txt":"M"},{"s":"b","t":"2010-03-02T16:56","p":1.6486,"txt":"A"},{"s":"b","t":"2010-03-03T02:26","p":1.6682,"txt":"B"},{"s":"b","t":"2010-03-03T08:41","p":1.6557,"txt":"C"},{"s":"r","t":"2010-03-03T04:11","p":1.6679,"txt":"M"},{"s":"r","t":"2010-03-03T10:19","p":1.6557,"txt":"A"},{"s":"r","t":"2010-03-03T13:41","p":1.6687,"txt":"B"},{"s":"r","t":"2010-03-03T17:37","p":1.6601,"txt":"C"},{"s":"r","t":"2010-03-04T02:30","p":1.6729,"txt":"D"}],
"ann":[{"c":"b","t":"2010-03-04T05:00","p":1.6768,"txt":"止损点 1.67642"},{"c":"r","t":"2010-03-04T03:52:30","p":1.6740,"txt":"卖出点 1.67360D"},{"c":"r","t":"2010-03-04T05:18:45","p":1.6661,"txt":"第一目标 1.66690"},{"c":"r","t":"2010-03-04T05:30","p":1.6558,"txt":"1.65648"},{"c":"g","t":"2010-03-02T17:41:15","p":1.6754,"txt":"GBP AUD 15 MIN"},{"c":"g","t":"2010-03-02T17:41:15","p":1.6747,"txt":"2010 03 04"}],
"vb":[{"t":"2010-03-04T16:00","p1":1.6535,"p2":1.6467}]
},
"layer":[
{"data":{"name":"fib"},"mark":{"type":"rule","color":"#5a80a8","strokeWidth":1,"strokeDash":[8,4]},
 "encoding":{
  "x":{"field":"t1","type":"temporal","title":null,
   "scale":{"domain":[{"year":2010,"month":3,"date":1,"hours":17,"minutes":56,"seconds":15},{"year":2010,"month":3,"date":4,"hours":16,"minutes":3,"seconds":45}],"nice":false,"padding":0},
   "axis":{"orient":"bottom","title":null,"grid":false,
    "values":[{"year":2010,"month":3,"date":1,"hours":18},{"year":2010,"month":3,"date":1,"hours":22},{"year":2010,"month":3,"date":2,"hours":2},{"year":2010,"month":3,"date":2,"hours":6},{"year":2010,"month":3,"date":2,"hours":10},{"year":2010,"month":3,"date":2,"hours":14},{"year":2010,"month":3,"date":2,"hours":18},{"year":2010,"month":3,"date":2,"hours":22},{"year":2010,"month":3,"date":3,"hours":2},{"year":2010,"month":3,"date":3,"hours":6},{"year":2010,"month":3,"date":3,"hours":10},{"year":2010,"month":3,"date":3,"hours":14},{"year":2010,"month":3,"date":3,"hours":18},{"year":2010,"month":3,"date":3,"hours":22}],
    "format":"%-d %b %H:%M","labelAlign":"left","labelBaseline":"top","tickSize":3,"labelPadding":2,"labelFont":"Liberation Sans","labelFontSize":9,"labelColor":"#000000","domainColor":"#000000","tickColor":"#000000","labelOverlap":false,"labelFlush":false,"labelBound":false}},
  "x2":{"field":"t2"},
  "y":{"field":"p","type":"quantitative","title":null,
   "scale":{"domain":[1.64575,1.67821],"zero":false,"nice":false},
   "axis":{"orient":"right","title":null,"grid":false,
    "values":[1.67763,1.67498,1.67233,1.67098,1.66968,1.66573,1.66443,1.66308,1.66173,1.66043,1.65908,1.65778,1.65648,1.65513,1.65383,1.65253,1.65118,1.64983,1.64853,1.64718,1.64583],
    "format":".5f","tickSize":3,"labelPadding":2,"labelFont":"Liberation Sans","labelFontSize":9,"labelColor":"#000000","domainColor":"#000000","tickColor":"#000000","labelOverlap":false,"labelBound":false}}
 }},
{"data":{"name":"fib"},"mark":{"type":"text","align":"right","baseline":"bottom","dy":-1,"font":"Liberation Sans","fontSize":9,"color":"#5a80a8"},
 "encoding":{"x":{"field":"tl","type":"temporal","title":null},"y":{"field":"p","type":"quantitative","title":null},"text":{"field":"lv"}}},
{"data":{"name":"days"},"mark":{"type":"rule","color":"#000000","strokeWidth":1,"strokeDash":[2,2]},
 "encoding":{"x":{"field":"t","type":"temporal","title":null}}},
{"data":{"name":"hl"},"transform":[{"filter":"datum.n=='stop' || datum.n=='sell' || datum.n=='gray' || datum.n=='t1'"}],"mark":{"type":"rule","strokeWidth":2},
 "encoding":{"y":{"field":"p","type":"quantitative","title":null},"stroke":{"field":"n","type":"nominal","legend":null,"scale":{"domain":["stop","sell","gray","or","bid","t1"],"range":["#ff0000","#0000ff","#7b8794","#ff6a3a","#b8b8b8","#0000ff"]}}}},
{"data":{"name":"hl"},"transform":[{"filter":"datum.n=='or' || datum.n=='bid'"}],"mark":{"type":"rule","strokeWidth":1},
 "encoding":{"y":{"field":"p","type":"quantitative","title":null},"stroke":{"field":"n","type":"nominal","legend":null,"scale":{"domain":["stop","sell","gray","or","bid","t1"],"range":["#ff0000","#0000ff","#7b8794","#ff6a3a","#b8b8b8","#0000ff"]}}}},
{"data":{"name":"ma"},"transform":[{"filter":"datum.s=='tl'"}],"mark":{"type":"line","color":"#74a0a0","strokeWidth":2,"clip":true},
 "encoding":{"x":{"field":"t","type":"temporal","title":null},"y":{"field":"p","type":"quantitative","title":null}}},
{"data":{"name":"ma"},"transform":[{"filter":"datum.s=='g2'"}],"mark":{"type":"line","color":"#3ee03e","strokeWidth":1,"clip":true},
 "encoding":{"x":{"field":"t","type":"temporal","title":null},"y":{"field":"p","type":"quantitative","title":null}}},
{"data":{"name":"ma"},"transform":[{"filter":"datum.s=='g1'"}],"mark":{"type":"line","color":"#22dd22","strokeWidth":2.5,"clip":true},
 "encoding":{"x":{"field":"t","type":"temporal","title":null},"y":{"field":"p","type":"quantitative","title":null}}},
{"data":{"name":"ma"},"transform":[{"filter":"datum.s=='r2'"}],"mark":{"type":"line","color":"#e01010","strokeWidth":1,"clip":true},
 "encoding":{"x":{"field":"t","type":"temporal","title":null},"y":{"field":"p","type":"quantitative","title":null}}},
{"data":{"name":"ma"},"transform":[{"filter":"datum.s=='r1'"}],"mark":{"type":"line","color":"#e01010","strokeWidth":2.5,"clip":true},
 "encoding":{"x":{"field":"t","type":"temporal","title":null},"y":{"field":"p","type":"quantitative","title":null}}},
{"data":{"name":"ma"},"transform":[{"filter":"datum.s=='nv'"}],"mark":{"type":"line","color":"#141496","strokeWidth":2,"clip":true},
 "encoding":{"x":{"field":"t","type":"temporal","title":null},"y":{"field":"p","type":"quantitative","title":null}}},
{"data":{"name":"c"},"mark":{"type":"rule","color":"#000000","strokeWidth":1},
 "encoding":{"x":{"field":"t","type":"temporal","title":null},"y":{"field":"l","type":"quantitative","title":null},"y2":{"field":"h"}}},
{"data":{"name":"c"},"mark":{"type":"bar","size":2,"stroke":"#000000","strokeWidth":1},
 "encoding":{"x":{"field":"t","type":"temporal","title":null,"scale":{"padding":0}},"y":{"field":"o","type":"quantitative","title":null,"scale":{"domain":[1.64575,1.67821],"zero":false,"nice":false}},"y2":{"field":"c"},
  "fill":{"condition":{"test":"datum.c >= datum.o","value":"#ffffff"},"value":"#000000"}}},
{"data":{"name":"dl"},"mark":{"type":"line","color":"#0000aa","strokeWidth":1,"strokeDash":[3,3]},
 "encoding":{"x":{"field":"t","type":"temporal","title":null},"y":{"field":"p","type":"quantitative","title":null},"detail":{"field":"g","type":"nominal"}}},
{"data":{"name":"ar"},"mark":{"type":"line","color":"#b0b0b0","strokeWidth":1},
 "encoding":{"x":{"field":"t","type":"temporal","title":null},"y":{"field":"p","type":"quantitative","title":null}}},
{"data":{"name":"ar"},"transform":[{"filter":"datum.k==2"}],"mark":{"type":"point","shape":"triangle-down","size":40,"filled":true,"color":"#b0b0b0","angle":-16,"opacity":1},
 "encoding":{"x":{"field":"t","type":"temporal","title":null},"y":{"field":"p","type":"quantitative","title":null}}},
{"data":{"name":"zz"},"transform":[{"filter":"datum.s=='b'"}],"mark":{"type":"line","color":"#1414d2","strokeWidth":3},
 "encoding":{"x":{"field":"t","type":"temporal","title":null},"y":{"field":"p","type":"quantitative","title":null},"order":{"field":"k"}}},
{"data":{"name":"zz"},"transform":[{"filter":"datum.s=='r'"}],"mark":{"type":"line","color":"#f01414","strokeWidth":3},
 "encoding":{"x":{"field":"t","type":"temporal","title":null},"y":{"field":"p","type":"quantitative","title":null},"order":{"field":"k"}}},
{"data":{"name":"zz"},"transform":[{"filter":"datum.s=='r' && datum.k<=2"}],"mark":{"type":"point","shape":"square","size":49,"filled":true,"color":"#ff0000","opacity":1},
 "encoding":{"x":{"field":"t","type":"temporal","title":null},"y":{"field":"p","type":"quantitative","title":null}}},
{"data":{"name":"lbl"},"transform":[{"filter":"datum.s=='b'"}],"mark":{"type":"text","align":"center","baseline":"middle","font":"Liberation Serif","fontSize":14,"color":"#1414d2"},
 "encoding":{"x":{"field":"t","type":"temporal","title":null},"y":{"field":"p","type":"quantitative","title":null},"text":{"field":"txt"}}},
{"data":{"name":"lbl"},"transform":[{"filter":"datum.s=='r'"}],"mark":{"type":"text","align":"center","baseline":"middle","font":"Liberation Serif","fontSize":14,"color":"#e81414"},
 "encoding":{"x":{"field":"t","type":"temporal","title":null},"y":{"field":"p","type":"quantitative","title":null},"text":{"field":"txt"}}},
{"data":{"name":"ann"},"transform":[{"filter":"datum.c=='b'"}],"mark":{"type":"text","align":"left","baseline":"middle","font":"Liberation Mono, Noto Sans CJK SC","fontSize":14,"color":"#2323c8"},
 "encoding":{"x":{"field":"t","type":"temporal","title":null},"y":{"field":"p","type":"quantitative","title":null},"text":{"field":"txt"}}},
{"data":{"name":"ann"},"transform":[{"filter":"datum.c=='r'"}],"mark":{"type":"text","align":"left","baseline":"middle","font":"Liberation Mono, Noto Sans CJK SC","fontSize":14,"color":"#e81414"},
 "encoding":{"x":{"field":"t","type":"temporal","title":null},"y":{"field":"p","type":"quantitative","title":null},"text":{"field":"txt"}}},
{"data":{"name":"ann"},"transform":[{"filter":"datum.c=='g'"}],"mark":{"type":"text","align":"left","baseline":"middle","font":"Liberation Mono","fontSize":13,"color":"#e81414"},
 "encoding":{"x":{"field":"t","type":"temporal","title":null},"y":{"field":"p","type":"quantitative","title":null},"text":{"field":"txt"}}},
{"data":{"name":"vb"},"mark":{"type":"rule","color":"#0000cc","strokeWidth":4,"clip":false},
 "encoding":{"x":{"field":"t","type":"temporal","title":null},"y":{"field":"p1","type":"quantitative","title":null},"y2":{"field":"p2"}}},
{"data":{"name":"hl"},"transform":[{"filter":"datum.n=='stop' || datum.n=='sell' || datum.n=='gray' || datum.n=='t1'"}],"mark":{"type":"point","shape":"square","size":30,"fill":"#e4e4e4","fillOpacity":1,"strokeWidth":1.5,"opacity":1},
 "encoding":{"x":{"datum":{"year":2010,"month":3,"date":4,"hours":15,"minutes":45},"type":"temporal","title":null},"y":{"field":"p","type":"quantitative","title":null},"stroke":{"field":"n","type":"nominal","legend":null,"scale":{"domain":["stop","sell","gray","or","bid","t1"],"range":["#ff0000","#0000ff","#7b8794","#ff6a3a","#b8b8b8","#0000ff"]}}}},
{"data":{"name":"hl"},"mark":{"type":"point","shape":"M-1,-0.32H1V0.32H-1Z","size":1600,"filled":true,"opacity":1,"clip":false},
 "encoding":{"x":{"datum":{"year":2010,"month":3,"date":4,"hours":17,"minutes":18,"seconds":45},"type":"temporal","title":null},"y":{"field":"p","type":"quantitative","title":null},"fill":{"field":"n","type":"nominal","legend":null,"scale":{"domain":["stop","sell","gray","or","bid","t1"],"range":["#ff0000","#0000dd","#7b8794","#ff5a1a","#000000","#0000dd"]}}}},
{"data":{"name":"hl"},"mark":{"type":"text","align":"left","baseline":"middle","font":"Liberation Sans","fontSize":9,"color":"#ffffff","clip":false},
 "encoding":{"x":{"datum":{"year":2010,"month":3,"date":4,"hours":16,"minutes":15},"type":"temporal","title":null},"y":{"field":"p","type":"quantitative","title":null},"text":{"field":"p","type":"quantitative","format":".5f"}}}
]
}
